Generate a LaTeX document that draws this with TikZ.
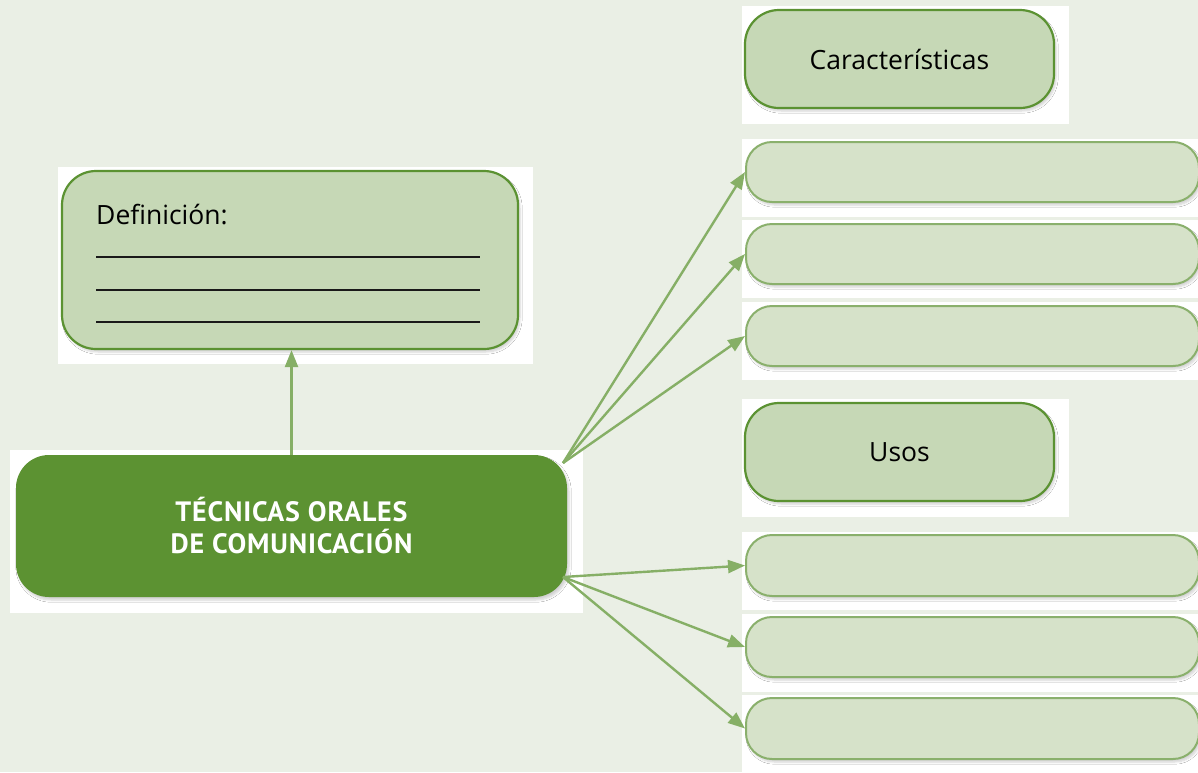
\documentclass[tikz,border=0pt]{standalone}
\usepackage{fontspec}
\setmainfont{Open Sans}
\newfontfamily\titlefont[LetterSpace=3]{PT Sans}
\usetikzlibrary{arrows.meta,shadows.blur}
\definecolor{bg}{HTML}{EAEFE5}
\definecolor{hdrfill}{HTML}{C6D8B6}
\definecolor{hdrline}{HTML}{5B9232}
\definecolor{itemfill}{HTML}{D6E2C9}
\definecolor{itemline}{HTML}{8AB06C}
\definecolor{mainfill}{HTML}{5C9232}
\definecolor{arrowc}{HTML}{86AF66}
\tikzset{
  paper/.style={fill=white,draw=none},
  softshadow/.style={blur shadow={shadow xshift=2pt,shadow yshift=-3pt,shadow opacity=18,shadow blur steps=6}},
  hdrbox/.style={rectangle,fill=hdrfill,draw=hdrline,line width=2.2pt,rounded corners=34pt,inner sep=0pt,softshadow},
  itembox/.style={rectangle,fill=itemfill,draw=itemline,line width=2pt,rounded corners=26pt,inner sep=0pt,softshadow},
  mainbox/.style={rectangle,fill=mainfill,draw=none,rounded corners=33pt,inner sep=0pt,softshadow},
  conn/.style={draw=arrowc,line width=2.4pt,-{Triangle[length=17pt,width=13pt]}},
  blank/.style={draw=black!90,line width=1.6pt},
  bodytext/.style={font=\fontsize{26.5}{30}\selectfont}
}
\begin{document}
\begin{tikzpicture}[x=1pt,y=-1pt]
\useasboundingbox (0,0) rectangle (1198,772);
\fill[bg] (0,0) rectangle (1198,772);
% white papers
\fill[paper] (58,167) rectangle (533,364);
\fill[paper] (10,450) rectangle (583,613);
\fill[paper] (742,6) rectangle (1069,124);
\fill[paper] (742,399) rectangle (1069,517);
\fill[paper] (742,139) rectangle (1198,217);
\fill[paper] (742,220) rectangle (1198,298);
\fill[paper] (742,302) rectangle (1198,380);
\fill[paper] (742,532) rectangle (1198,610);
\fill[paper] (742,614) rectangle (1198,692);
\fill[paper] (742,695) rectangle (1198,772);
% definition box
\node[hdrbox,minimum width=456pt,minimum height=178pt] (def) at (290,260) {};
\node[anchor=base west,inner sep=0pt,bodytext] (deftext) at (96,224) {Definición:};
\draw[blank] (96,257) -- (480,257);
\draw[blank] (96,290) -- (480,290);
\draw[blank] (96,322) -- (480,322);
% main box
\node[mainbox,minimum width=551pt,minimum height=142pt,text=white,align=center,
  font=\titlefont\bfseries\fontsize{28}{32}\selectfont] (main) at (291.5,526) {TÉCNICAS ORALES\\DE COMUNICACIÓN};
% headers
\node[hdrbox,minimum width=309pt,minimum height=98pt,bodytext] (car) at (899.5,59) {Características};
\node[hdrbox,minimum width=309pt,minimum height=98pt,bodytext] (usos) at (899.5,452) {Usos};
% item boxes
\node[itembox,minimum width=453pt,minimum height=60pt] (c1) at (972.5,172) {};
\node[itembox,minimum width=453pt,minimum height=60pt] (c2) at (972.5,254) {};
\node[itembox,minimum width=453pt,minimum height=60pt] (c3) at (972.5,336) {};
\node[itembox,minimum width=453pt,minimum height=61pt] (u1) at (972.5,565.5) {};
\node[itembox,minimum width=453pt,minimum height=60pt] (u2) at (972.5,647) {};
\node[itembox,minimum width=453pt,minimum height=61pt] (u3) at (972.5,728.5) {};
% connectors
\coordinate (mt) at (563,463);
\coordinate (mb) at (563,577);
\draw[conn] (main.north) -- (main.north |- def.south);
\draw[conn] (mt) -- (c1.west);
\draw[conn] (mt) -- (c2.west);
\draw[conn] (mt) -- (c3.west);
\draw[conn] (mb) -- (u1.west);
\draw[conn] (mb) -- (u2.west);
\draw[conn] (mb) -- (u3.west);
\end{tikzpicture}
\end{document}
